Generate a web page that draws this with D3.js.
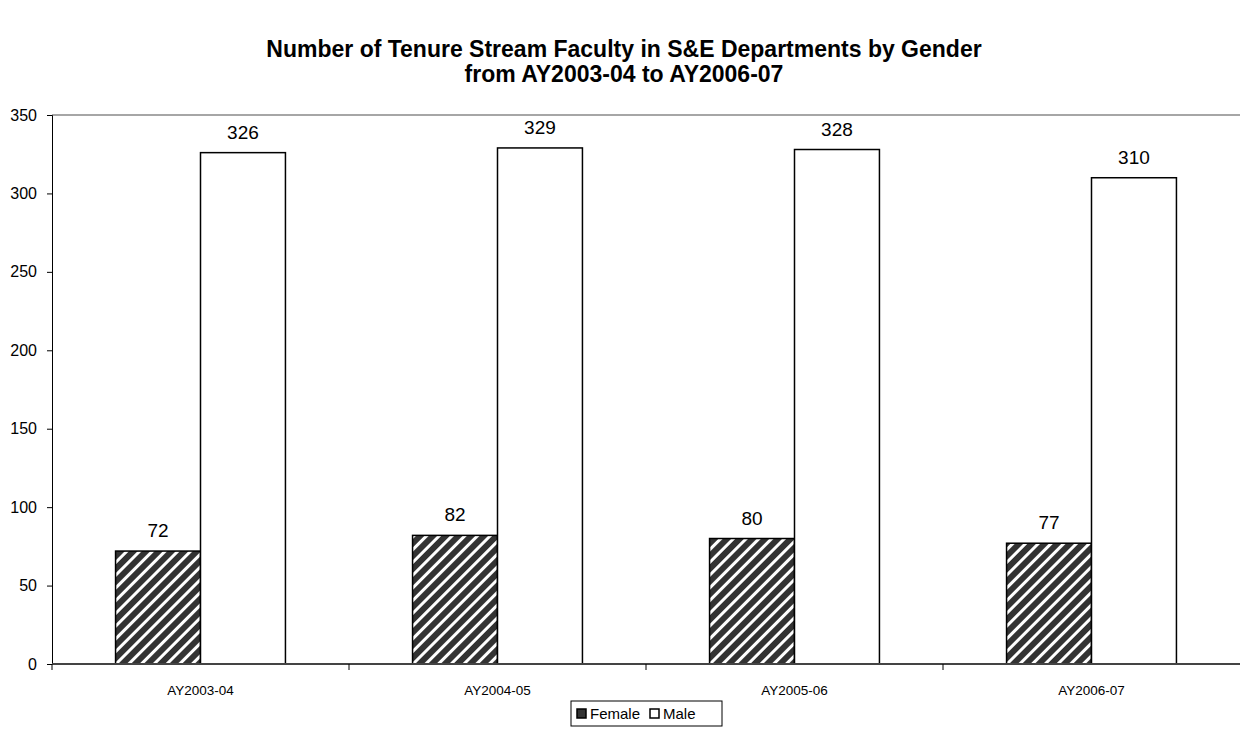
<!DOCTYPE html>
<html>
<head>
<meta charset="utf-8">
<script src="https://cdn.jsdelivr.net/npm/d3@7"></script>
<style>
  body { margin: 0; background: #fff; }
  svg { font-family: "Liberation Sans", Arial, sans-serif; display: block; }
</style>
</head>
<body>
<div id="chart"></div>
<script>
// data
const years = ["AY2003-04", "AY2004-05", "AY2005-06", "AY2006-07"];
const female = [72, 82, 80, 77];
const male = [326, 329, 328, 310];
const seriesNames = ["Female", "Male"];
const yTicks = [0, 50, 100, 150, 200, 250, 300, 350];

const W = 1240, H = 747;
const margin = { top: 115, right: 0, bottom: 83, left: 52 };
const plotW = W - margin.left - margin.right;
const plotH = H - margin.top - margin.bottom;

const svg = d3.select("#chart").append("svg")
    .attr("width", W)
    .attr("height", H);

// hatch pattern for the female bars
const defs = svg.append("defs");
const pat = defs.append("pattern")
    .attr("id", "hatch")
    .attr("patternUnits", "userSpaceOnUse")
    .attr("width", 9)
    .attr("height", 9)
    .attr("patternTransform", "rotate(45)");
pat.append("rect").attr("width", 9).attr("height", 9).attr("fill", "#333");
pat.append("rect").attr("x", 0).attr("width", 3).attr("height", 9).attr("fill", "#fff");

// title
svg.append("text")
    .attr("x", 624).attr("y", 57)
    .attr("text-anchor", "middle")
    .style("font-size", "23px").style("font-weight", "bold")
    .text("Number of Tenure Stream Faculty in S&E Departments by Gender");
svg.append("text")
    .attr("x", 624).attr("y", 82)
    .attr("text-anchor", "middle")
    .style("font-size", "23px").style("font-weight", "bold")
    .text("from AY2003-04 to AY2006-07");

const g = svg.append("g").attr("transform", `translate(${margin.left},${margin.top})`);

const x = d3.scaleBand().domain(years).range([0, plotW]).paddingInner(0).paddingOuter(0);
const xs = d3.scaleBand().domain(seriesNames).range([0, x.bandwidth() * 0.572]);
const groupOffset = (x.bandwidth() - xs.range()[1]) / 2;
const y = d3.scaleLinear().domain([0, 350]).range([plotH, 0]);

// top border line of plot area
g.append("line")
    .attr("x1", 0).attr("x2", plotW)
    .attr("y1", y(350)).attr("y2", y(350))
    .attr("stroke", "#888").attr("stroke-width", 1.5);

// y axis
const yAxis = g.append("g")
    .call(d3.axisLeft(y).tickValues(yTicks).tickSize(5).tickPadding(10));
yAxis.select(".domain").attr("stroke", "#000");
yAxis.selectAll(".tick line").attr("stroke", "#000");
yAxis.selectAll(".tick text").style("font-size", "16px").attr("fill", "#000").attr("font-family", null);

const rows = years.map((yr, i) => ({ year: yr, vals: [
    { s: "Female", v: female[i] },
    { s: "Male", v: male[i] }
]}));

const groups = g.selectAll(".grp")
    .data(rows)
    .enter().append("g")
    .attr("class", "grp")
    .attr("transform", d => `translate(${x(d.year) + groupOffset},0)`);

groups.selectAll("rect")
    .data(d => d.vals)
    .enter().append("rect")
    .attr("x", d => xs(d.s))
    .attr("y", d => y(d.v))
    .attr("width", xs.bandwidth())
    .attr("height", d => plotH - y(d.v))
    .attr("fill", d => d.s === "Female" ? "url(#hatch)" : "#fff")
    .attr("stroke", "#000")
    .attr("stroke-width", 1.5);

groups.selectAll(".lbl")
    .data(d => d.vals)
    .enter().append("text")
    .attr("class", "lbl")
    .attr("x", d => xs(d.s) + xs.bandwidth() / 2)
    .attr("y", d => y(d.v) - 14)
    .attr("text-anchor", "middle")
    .style("font-size", "19px")
    .text(d => d.v);

// x axis with ticks at category boundaries
const xAxisG = g.append("g").attr("transform", `translate(0,${plotH})`);
xAxisG.append("line")
    .attr("x1", 0).attr("x2", plotW)
    .attr("stroke", "#444").attr("stroke-width", 2);
const bounds = years.map(d => x(d));
xAxisG.selectAll(".xt")
    .data(bounds)
    .enter().append("line")
    .attr("x1", d => d).attr("x2", d => d)
    .attr("y1", 0).attr("y2", 6)
    .attr("stroke", "#000");
xAxisG.selectAll(".xl")
    .data(years)
    .enter().append("text")
    .attr("x", d => x(d) + x.bandwidth() / 2)
    .attr("y", 31)
    .attr("text-anchor", "middle")
    .style("font-size", "13.5px")
    .text(d => d);

// legend
const leg = svg.append("g").attr("transform", "translate(571,701)");
leg.append("rect")
    .attr("width", 151).attr("height", 25)
    .attr("fill", "#fff").attr("stroke", "#000");
const legItems = [
    { name: "Female", fill: "#333", x: 6 },
    { name: "Male", fill: "#fff", x: 79 }
];
leg.selectAll(".li")
    .data(legItems)
    .enter().append("rect")
    .attr("x", d => d.x).attr("y", 8)
    .attr("width", 9).attr("height", 9)
    .attr("fill", d => d.fill)
    .attr("stroke", "#000").attr("stroke-width", 1.5);
leg.selectAll(".lt")
    .data(legItems)
    .enter().append("text")
    .attr("x", d => d.x + 13).attr("y", 18)
    .style("font-size", "15px")
    .text(d => d.name);
</script>
</body>
</html>
